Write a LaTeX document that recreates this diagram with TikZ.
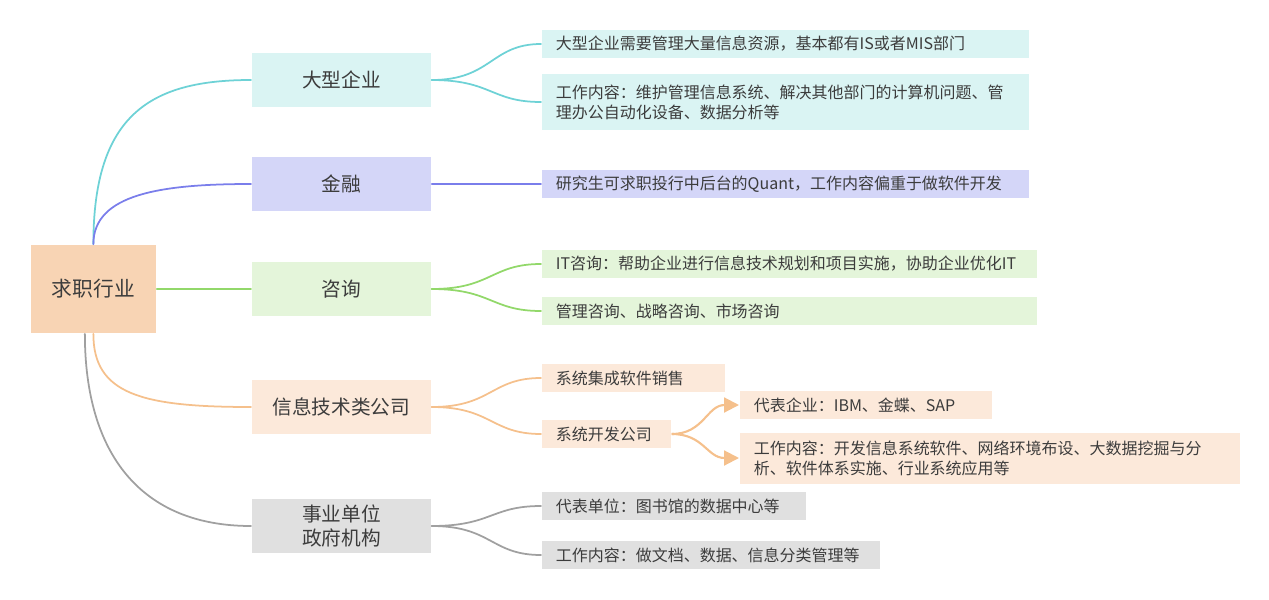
\documentclass[tikz,border=0pt]{standalone}
\usepackage{fontspec}
\setmainfont{Noto Sans CJK SC}
\usepackage{xcolor}
\usepackage{tikz}
\usetikzlibrary{arrows.meta}

\definecolor{txt}{RGB}{60,60,60}
\definecolor{tealf}{RGB}{218,244,243}
\definecolor{teall}{RGB}{110,210,214}
\definecolor{purpf}{RGB}{212,214,248}
\definecolor{purpl}{RGB}{122,126,235}
\definecolor{grnf}{RGB}{228,245,218}
\definecolor{grnl}{RGB}{146,216,106}
\definecolor{orgf}{RGB}{252,233,218}
\definecolor{rootf}{RGB}{248,212,180}
\definecolor{orgl}{RGB}{245,192,140}
\definecolor{grayf}{RGB}{224,224,224}
\definecolor{grayl}{RGB}{160,160,160}

\begin{document}
\begin{tikzpicture}[x=0.02cm,y=-0.02cm,line width=1pt,
topic/.style={rectangle,anchor=west,inner sep=0pt,text=txt,align=center,
  minimum width=3.58cm,minimum height=1.08cm,font=\fontsize{11.2}{14}\selectfont},
leaf/.style={rectangle,anchor=west,inner xsep=0.28cm,inner ysep=0pt,text=txt,
  align=left,minimum height=0.56cm,font=\fontsize{9.1}{11.4}\selectfont},
link/.style={line cap=round}]
\useasboundingbox(0,0)rectangle(1269,599);
% centre
\node[rectangle,anchor=west,inner sep=0pt,fill=rootf,text=txt,minimum width=2.5cm,
  minimum height=1.76cm,font=\fontsize{11.8}{14}\selectfont](root)at(30,289){求职行业};
% first level
\node[topic,fill=tealf](big)at(251,80){大型企业};
\node[topic,fill=purpf](fin)at(251,184){金融};
\node[topic,fill=grnf](cons)at(251,289){咨询};
\node[topic,fill=orgf](it)at(251,407){信息技术类公司};
\node[topic,fill=grayf](gov)at(251,526){事业单位\\政府机构};
% leaves
\node[leaf,fill=tealf,text width=9.18cm](big1)at(541,44){大型企业需要管理大量信息资源，基本都有IS或者MIS部门};
\node[leaf,fill=tealf,text width=9.18cm,minimum height=1.12cm](big2)at(541,102){工作内容：维护管理信息系统、解决其他部门的计算机问题、管\\理办公自动化设备、数据分析等};
\node[leaf,fill=purpf,text width=9.18cm](fin1)at(541,184){研究生可求职投行中后台的Quant，工作内容偏重于做软件开发};
\node[leaf,fill=grnf,text width=9.34cm](cons1)at(541,264){IT咨询：帮助企业进行信息技术规划和项目实施，协助企业优化IT};
\node[leaf,fill=grnf,text width=9.34cm](cons2)at(541,311){管理咨询、战略咨询、市场咨询};
\node[leaf,fill=orgf,text width=3.1cm](it1)at(541,378){系统集成软件销售};
\node[leaf,fill=orgf,text width=2.02cm](it2)at(541,434){系统开发公司};
\node[leaf,fill=orgf,text width=4.48cm](it21)at(739,405){代表企业：IBM、金蝶、SAP};
\node[leaf,fill=orgf,text width=9.44cm,minimum height=1.02cm](it22)at(739,458){工作内容：开发信息系统软件、网络环境布设、大数据挖掘与分\\析、软件体系实施、行业系统应用等};
\node[leaf,fill=grayf,text width=4.72cm](gov1)at(541,506){代表单位：图书馆的数据中心等};
\node[leaf,fill=grayf,text width=6.2cm](gov2)at(541,555){工作内容：做文档、数据、信息分类管理等};
% branches from the centre
\draw[link,teall](root.north)..controls+(0,-130)and+(-100,0)..(big.west);
\draw[link,purpl](root.north)..controls+(0,-50)and+(-90,0)..(fin.west);
\draw[link,grnl](root.east)--(cons.west);
\draw[link,orgl](root.south)..controls+(0,60)and+(-110,0)..(it.west);
\draw[link,grayl]([xshift=-0.17cm]root.south)..controls+(0,120)and+(-110,0)..(gov.west);
% branches to the leaves
\draw[link,teall](big.east)..controls+(60,0)and+(-50,0)..(big1.west);
\draw[link,teall](big.east)..controls+(60,0)and+(-50,0)..(big2.west);
\draw[link,purpl](fin.east)--(fin1.west);
\draw[link,grnl](cons.east)..controls+(60,0)and+(-50,0)..(cons1.west);
\draw[link,grnl](cons.east)..controls+(60,0)and+(-50,0)..(cons2.west);
\draw[link,orgl](it.east)..controls+(60,0)and+(-50,0)..(it1.west);
\draw[link,orgl](it.east)..controls+(60,0)and+(-50,0)..(it2.west);
\draw[link,grayl](gov.east)..controls+(60,0)and+(-50,0)..(gov1.west);
\draw[link,grayl](gov.east)..controls+(60,0)and+(-50,0)..(gov2.west);
\draw[orgl,line width=1.2pt,-{Triangle[length=8.5pt,width=8.5pt]}](it2.east)..controls+(32,0)and+(-32,0)..(it21.west);
\draw[orgl,line width=1.2pt,-{Triangle[length=8.5pt,width=8.5pt]}](it2.east)..controls+(32,0)and+(-32,0)..(it22.west);
\end{tikzpicture}
\end{document}
